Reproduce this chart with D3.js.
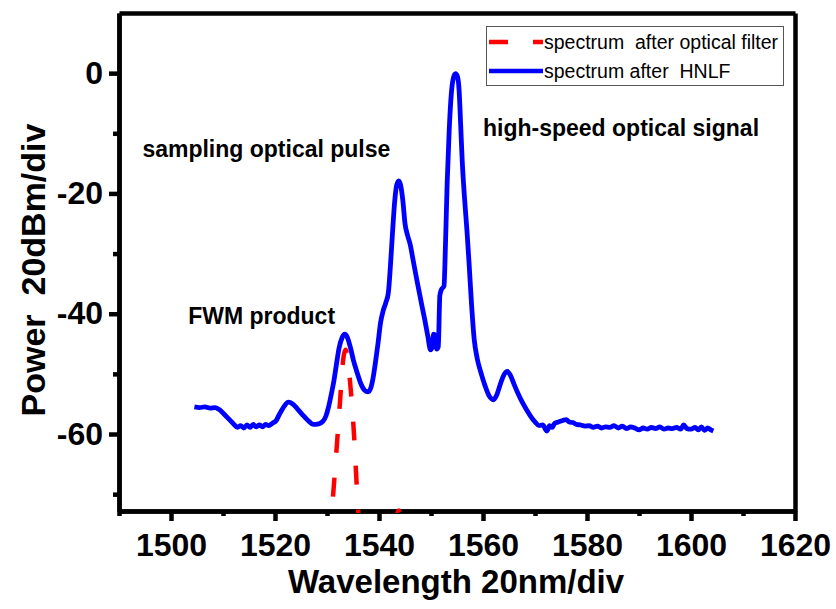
<!DOCTYPE html>
<html>
<head>
<meta charset="utf-8">
<script src="https://cdn.jsdelivr.net/npm/d3@7"></script>
<style>
  body { margin: 0; background: #fff; }
  svg { display: block; font-family: "Liberation Sans", Arial, sans-serif; }
</style>
</head>
<body>
<div class="chart"></div>
<script>
// wavelength (nm) and power (dBm)
var hnlfWave = [1504.5,1505.5,1506.5,1507.5,1508.5,1509.2,1510.0,1511.0,1512.0,1512.8,1513.4,1514.0,1514.6,1515.2,1515.8,1516.4,1517.0,1517.6,1518.2,1518.8,1519.5,1520.2,1520.8,1521.6,1522.6,1523.4,1524.3,1525.3,1526.3,1527.4,1528.4,1529.2,1529.8,1530.3,1530.8,1531.3,1531.8,1532.3,1532.9,1533.4,1533.9,1534.5,1535.1,1535.8,1536.5,1537.2,1537.9,1538.4,1538.9,1539.3,1539.8,1540.3,1540.8,1541.3,1541.8,1542.2,1542.6,1543.0,1543.4,1543.8,1544.2,1544.6,1545.0,1545.5,1546.0,1546.5,1547.3,1548.1,1548.8,1549.4,1549.9,1550.2,1550.5,1550.8,1551.1,1551.4,1551.7,1552.0,1552.5,1552.8,1553.1,1553.5,1553.9,1554.3,1554.7,1555.1,1555.4,1555.7,1556.0,1556.4,1556.9,1557.3,1557.8,1558.3,1558.9,1559.6,1560.4,1561.2,1562.0,1562.6,1563.3,1564.0,1564.7,1565.3,1566.0,1566.8,1567.6,1568.4,1569.2,1570.0,1570.8,1571.5,1572.0,1572.3,1572.8,1573.3,1573.8,1574.5,1575.2,1576.0,1576.6,1577.3,1578.0,1578.8,1579.6,1580.4,1581.2,1582.0,1582.8,1583.6,1584.4,1585.2,1586.0,1586.8,1587.6,1588.4,1589.2,1590.0,1590.8,1591.6,1592.4,1593.2,1594.0,1594.8,1595.6,1596.4,1597.2,1598.0,1598.6,1599.2,1600.0,1600.8,1601.4,1602.0,1602.6,1603.2,1603.8,1604.3];
var hnlfPower = [-55.5,-55.6,-55.5,-55.7,-55.6,-55.9,-56.5,-57.4,-58.3,-58.9,-58.6,-59.0,-58.5,-58.9,-58.4,-58.8,-58.5,-58.8,-58.4,-58.6,-58.2,-57.8,-56.8,-55.6,-54.7,-55.0,-55.8,-56.8,-57.7,-58.4,-58.3,-57.9,-57.0,-55.5,-53.5,-51.3,-48.5,-45.8,-44.0,-43.4,-43.9,-45.6,-47.8,-49.8,-51.6,-52.7,-53.0,-52.4,-50.5,-48.2,-45.0,-41.5,-39.5,-38.2,-36.5,-32.0,-26.5,-21.5,-18.6,-17.9,-18.8,-21.3,-25.0,-27.0,-28.5,-30.8,-34.5,-38.0,-41.0,-43.8,-46.0,-45.6,-43.4,-43.6,-45.9,-45.5,-37.0,-36.0,-35.4,-28.0,-18.5,-9.5,-3.5,-0.8,-0.1,-0.6,-2.8,-8.5,-14.5,-20.2,-26.0,-31.3,-38.5,-44.2,-47.5,-49.8,-52.0,-53.7,-54.3,-53.6,-51.8,-50.2,-49.6,-50.3,-51.8,-53.4,-54.8,-56.0,-57.1,-58.0,-58.6,-58.5,-59.2,-59.5,-58.6,-58.9,-58.2,-58.0,-57.8,-57.6,-58.0,-58.1,-58.4,-58.5,-58.7,-58.6,-58.9,-58.7,-59.0,-58.8,-58.9,-58.6,-59.0,-58.7,-59.1,-58.8,-59.0,-59.3,-59.0,-59.2,-58.9,-59.1,-58.8,-59.2,-59.0,-59.1,-58.9,-59.2,-58.5,-59.1,-59.2,-58.9,-59.3,-58.8,-59.4,-59.0,-59.3,-59.5];

var filterWave = [1530.0,1530.8,1531.1,1531.5,1531.9,1532.5,1533.0,1533.6,1534.1,1534.6,1535.2,1535.7,1536.1,1536.6,1538.0,1540.0,1542.0,1543.2,1543.8,1544.4,1545.5,1547.0];
var filterPower = [-85,-74,-71,-66.5,-61.8,-54.7,-48.5,-46.0,-48.5,-53.0,-60.2,-68.3,-74,-80,-86,-88,-80,-74.5,-72.7,-74.5,-80,-88];

var xMajor = [1500,1520,1540,1560,1580,1600,1620];
var xMinor = [1490,1510,1530,1550,1570,1590,1610];
var yMajor = [-60,-40,-20,0];
var yMinor = [-70,-50,-30,-10];

var seriesNames = ["spectrum  after optical filter", "spectrum after  HNLF"];
var notes = [
  {text: "sampling optical pulse", wave: 1494.5, power: -14.0},
  {text: "high-speed optical signal", wave: 1560.0, power: -10.4},
  {text: "FWM product", wave: 1503.3, power: -41.7}
];

var width = 836, height = 609;
var margin = {left: 119, right: 795, top: 13, bottom: 511};
var font = '"Liberation Sans", Arial, sans-serif';

var svg = d3.select(".chart").append("svg")
    .attr("width", width)
    .attr("height", height);

var x = d3.scaleLinear().domain([1490, 1620]).range([margin.left, margin.right]);
var y = d3.scaleLinear().domain([-72.8, 10]).range([margin.bottom, margin.top]);

// plain hyphen for negative numbers, like the original
var plain = function(d) { return String(d); };

function styleAxis(g) {
  g.selectAll("path.domain").attr("stroke", "#000").attr("stroke-width", 4.5);
  g.selectAll(".tick line").attr("stroke", "#000").attr("stroke-width", 4.5);
  g.selectAll(".tick text")
    .attr("font-family", font)
    .attr("font-weight", "bold")
    .attr("font-size", 32)
    .attr("fill", "#000");
}

// frame: top and right
svg.append("g").attr("transform", "translate(0," + margin.top + ")")
  .call(d3.axisTop(x).tickValues([]).tickSizeOuter(0)).call(styleAxis);
svg.append("g").attr("transform", "translate(" + margin.right + ",0)")
  .call(d3.axisRight(y).tickValues([]).tickSizeOuter(0)).call(styleAxis);

// minor ticks
svg.append("g").attr("transform", "translate(0," + margin.bottom + ")")
  .call(d3.axisBottom(x).tickValues(xMinor).tickSize(5).tickFormat("").tickSizeOuter(0)).call(styleAxis);
svg.append("g").attr("transform", "translate(" + margin.left + ",0)")
  .call(d3.axisLeft(y).tickValues(yMinor).tickSize(6).tickFormat("").tickSizeOuter(0)).call(styleAxis);

// major ticks with labels
svg.append("g").attr("transform", "translate(0," + margin.bottom + ")")
  .call(d3.axisBottom(x).tickValues(xMajor).tickSize(10).tickPadding(12).tickFormat(plain).tickSizeOuter(0))
  .call(styleAxis);
svg.append("g").attr("transform", "translate(" + margin.left + ",0)")
  .call(d3.axisLeft(y).tickValues(yMajor).tickSize(10).tickPadding(6).tickFormat(plain).tickSizeOuter(0))
  .call(styleAxis);

// axis titles
svg.append("text")
  .attr("x", 456).attr("y", 593)
  .attr("text-anchor", "middle")
  .attr("font-family", font).attr("font-weight", "bold").attr("font-size", 33)
  .text("Wavelength 20nm/div");

svg.append("text")
  .attr("transform", "translate(45,270) rotate(-90)")
  .attr("text-anchor", "middle")
  .attr("font-family", font).attr("font-weight", "bold").attr("font-size", 34)
  .style("white-space", "pre")
  .text("Power  20dBm/div");

// curves
svg.append("defs").append("clipPath").attr("id", "plotclip")
  .append("rect").attr("x", margin.left).attr("y", margin.top)
  .attr("width", margin.right - margin.left).attr("height", margin.bottom - margin.top + 2);

var line = d3.line()
  .x(function(d) { return x(d[0]); })
  .y(function(d) { return y(d[1]); })
  .curve(d3.curveMonotoneX);

var plot = svg.append("g").attr("clip-path", "url(#plotclip)");

plot.append("path")
  .datum(hnlfWave.map(function(w, i) { return [w, hnlfPower[i]]; }))
  .attr("d", line)
  .attr("fill", "none")
  .attr("stroke", "#0000ff")
  .attr("stroke-width", 4.8)
  .attr("stroke-linejoin", "round");

plot.append("path")
  .datum(filterWave.map(function(w, i) { return [w, filterPower[i]]; }))
  .attr("d", line)
  .attr("fill", "none")
  .attr("stroke", "#ff0000")
  .attr("stroke-width", 4.5)
  .attr("stroke-dasharray", "19,25");

// annotations
svg.append("g").selectAll("text")
  .data(notes)
  .enter().append("text")
  .attr("x", function(d) { return x(d.wave); })
  .attr("y", function(d) { return y(d.power); })
  .attr("font-family", font).attr("font-weight", "bold").attr("font-size", 23)
  .text(function(d) { return d.text; });

// legend
var legend = svg.append("g");
legend.append("rect")
  .attr("x", 486.5).attr("y", 26.5).attr("width", 297).attr("height", 59)
  .attr("fill", "#fff").attr("stroke", "#555").attr("stroke-width", 1);

var legendColors = ["#ff0000", "#0000ff"];
var legendDash = ["19,25", null];
seriesNames.forEach(function(name, i) {
  var ly = 42 + i * 29;
  legend.append("line")
    .attr("x1", 489).attr("x2", 543).attr("y1", ly).attr("y2", ly)
    .attr("stroke", legendColors[i]).attr("stroke-width", 4.5)
    .attr("stroke-dasharray", legendDash[i]);
  legend.append("text")
    .attr("x", 544).attr("y", ly + 6.5)
    .attr("font-family", font).attr("font-size", 19.5)
    .style("white-space", "pre")
    .text(name);
});
</script>
</body>
</html>
